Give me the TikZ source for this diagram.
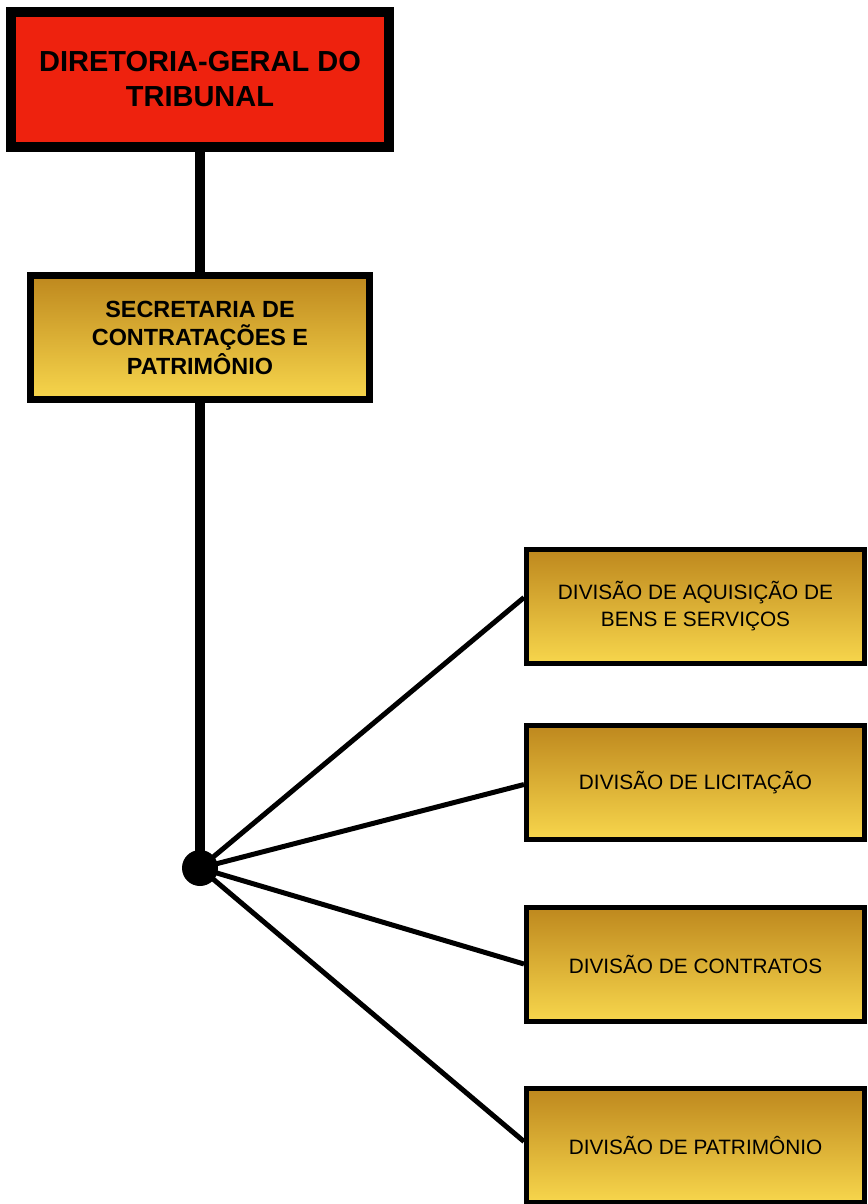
\documentclass[tikz,border=0pt]{standalone}
\usepackage{fontspec}
\setmainfont{Liberation Sans}
\definecolor{redbox}{RGB}{238,34,14}
\definecolor{gtop}{RGB}{190,136,30}
\definecolor{gbot}{RGB}{247,214,76}
\tikzset{
  topbox/.style={draw=black, line width=10pt, fill=redbox, minimum width=378pt, minimum height=134pt, inner sep=0pt, align=center, font=\fontsize{29}{35}\selectfont\bfseries},
  secbox/.style={draw=black, line width=7pt, top color=gtop, bottom color=gbot, minimum width=339pt, minimum height=124pt, inner sep=0pt, align=center, font=\fontsize{23.4}{28.5}\selectfont\bfseries},
  divbox/.style={draw=black, line width=5pt, top color=gtop, bottom color=gbot, minimum width=338pt, minimum height=114pt, inner sep=0pt, align=center, font=\fontsize{20.8}{27}\selectfont},
  thick line/.style={line width=9.5pt},
  thin line/.style={line width=5pt},
  hub/.style={circle, fill=black, minimum size=36pt, inner sep=0pt}
}
\begin{document}
\begin{tikzpicture}[x=1pt,y=-1pt]
\useasboundingbox (0,0) rectangle (867,1204);
\node[topbox] (dg) at (200,79.5) {DIRETORIA-GERAL DO\\TRIBUNAL};
\node[secbox] (scp) at (200,337.5) {SECRETARIA DE\\CONTRATAÇÕES E\\PATRIMÔNIO};
\node[hub] (hub) at (200,868) {};
\node[divbox] (b1) at (695.5,606.5) {DIVISÃO DE AQUISIÇÃO DE\\BENS E SERVIÇOS};
\node[divbox] (b2) at (695.5,782.5) {DIVISÃO DE LICITAÇÃO};
\node[divbox] (b3) at (695.5,964) {DIVISÃO DE CONTRATOS};
\node[divbox] (b4) at (695.5,1145.5) {DIVISÃO DE PATRIMÔNIO};
\draw[thick line] (dg.south) -- (scp.north);
\draw[thick line] (scp.south) -- (hub.center);
\draw[thin line] (hub.center) -- ([yshift=9pt]b1.west);
\draw[thin line] (hub.center) -- ([yshift=-2pt]b2.west);
\draw[thin line] (hub.center) -- (b3.west);
\draw[thin line] (hub.center) -- ([yshift=4pt]b4.west);
\end{tikzpicture}
\end{document}
